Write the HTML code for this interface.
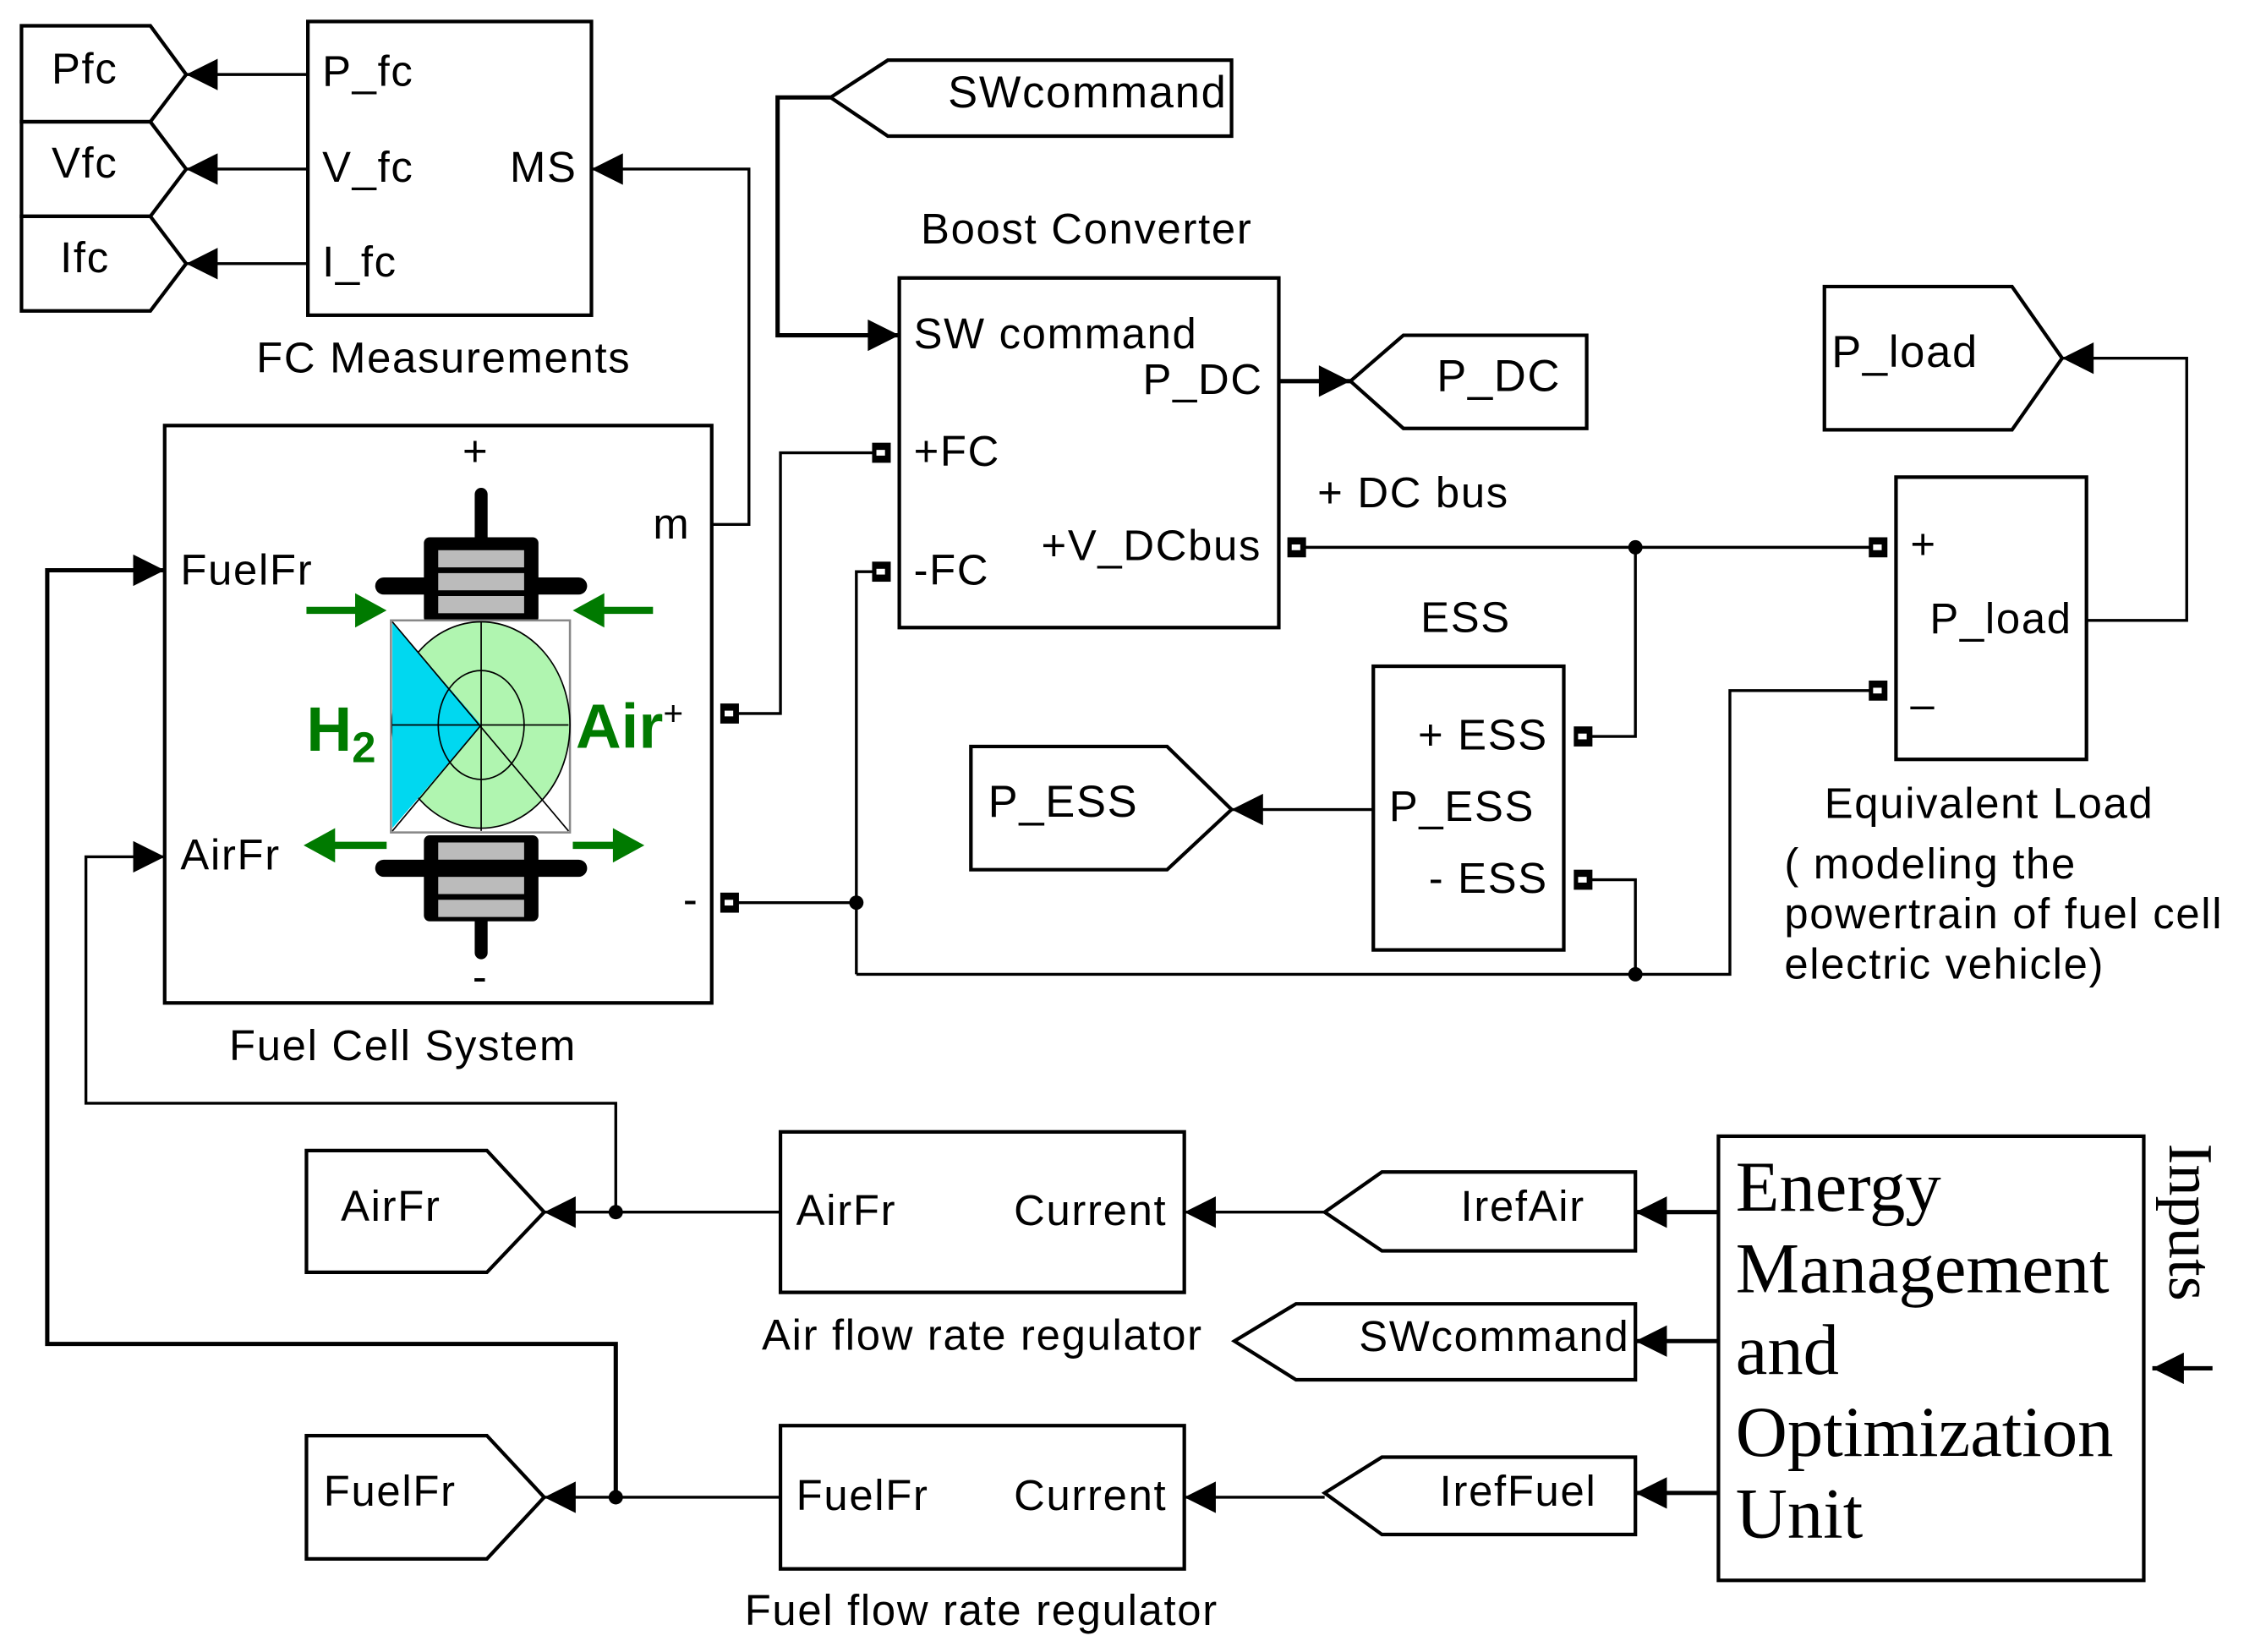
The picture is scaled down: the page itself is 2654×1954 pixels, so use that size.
<!DOCTYPE html>
<html><head><meta charset="utf-8"><style>
html,body{margin:0;padding:0;background:#fff;}
svg{display:block;}
text{font-family:"Liberation Sans",Arial,sans-serif;fill:#000;}
.s{font-family:"Liberation Serif",serif;}
</style></head><body>
<svg width="2654" height="1954" viewBox="0 0 1567 1153" preserveAspectRatio="none" xmlns="http://www.w3.org/2000/svg">
<defs>
<marker id="b" viewBox="0 0 10 10" refX="10" refY="5" markerWidth="24" markerHeight="22" markerUnits="userSpaceOnUse" orient="auto"><path d="M0,0 L10,5 L0,10 z"/></marker>
</defs>
<g fill="none" stroke="#000" stroke-width="2.5">
<polygon points="15,18 105,18 130,52 105,85 15,85"/>
<polygon points="15,85 105,85 130,118 105,151 15,151"/>
<polygon points="15,151 105,151 130,184 105,217 15,217"/>
<rect x="215" y="15" width="198" height="205"/>
<rect x="115" y="297" width="382" height="403"/>
<polygon points="580,68 620,42 860,42 860,95 620,95"/>
<rect x="628" y="194" width="265" height="244"/>
<polygon points="943,266 980,234 1108,234 1108,299 980,299"/>
<polygon points="1274,200 1405,200 1440,250 1405,300 1274,300"/>
<rect x="1324" y="333" width="133" height="197"/>
<rect x="959" y="465" width="133" height="198"/>
<polygon points="678,521 815,521 860,565 815,607 678,607"/>
<polygon points="214,803 340,803 380,846 340,888 214,888"/>
<rect x="545" y="790" width="282" height="112"/>
<polygon points="925,846 965,818 1142,818 1142,873 965,873"/>
<polygon points="862,936 905,910 1142,910 1142,963 905,963"/>
<polygon points="925,1042 965,1017 1142,1017 1142,1071 965,1071"/>
<rect x="545" y="995" width="282" height="100"/>
<polygon points="214,1002 340,1002 380,1045 340,1088 214,1088"/>
<rect x="1200" y="793" width="297" height="310"/>
</g>
<g fill="none" stroke="#000" stroke-width="2">
<line x1="215" y1="52" x2="130" y2="52" marker-end="url(#b)"/>
<line x1="215" y1="118" x2="130" y2="118" marker-end="url(#b)"/>
<line x1="215" y1="184" x2="130" y2="184" marker-end="url(#b)"/>
<polyline points="497,366 523,366 523,118 413,118" marker-end="url(#b)"/>
<polyline points="580,68 543,68 543,234 628,234" stroke-width="3" marker-end="url(#b)"/>
<line x1="893" y1="266" x2="943" y2="266" stroke-width="3" marker-end="url(#b)"/>
<polyline points="1457,433 1527,433 1527,250 1440,250" marker-end="url(#b)"/>
<line x1="959" y1="565" x2="860" y2="565" marker-end="url(#b)"/>
<polyline points="510,498 545,498 545,316 615,316"/>
<polyline points="510,630 598,630"/>
<polyline points="598,680 598,399 615,399"/>
<polyline points="598,680 1208,680 1208,482 1311,482"/>
<polyline points="1105,614 1142,614 1142,680"/>
<line x1="906" y1="382" x2="1311" y2="382"/>
<polyline points="1142,382 1142,514 1105,514"/>
<polyline points="430,1045 430,938 33,938 33,398 115,398" stroke-width="3" marker-end="url(#b)"/>
<polyline points="430,846 430,770 60,770 60,598 115,598" marker-end="url(#b)"/>
<line x1="545" y1="846" x2="380" y2="846" marker-end="url(#b)"/>
<line x1="545" y1="1045" x2="380" y2="1045" marker-end="url(#b)"/>
<line x1="925" y1="846" x2="827" y2="846" marker-end="url(#b)"/>
<line x1="925" y1="1045" x2="827" y2="1045" marker-end="url(#b)"/>
<line x1="1200" y1="846" x2="1142" y2="846" stroke-width="3" marker-end="url(#b)"/>
<line x1="1200" y1="936" x2="1142" y2="936" stroke-width="3" marker-end="url(#b)"/>
<line x1="1200" y1="1042" x2="1142" y2="1042" stroke-width="3" marker-end="url(#b)"/>
<line x1="1545" y1="955" x2="1503" y2="955" stroke-width="3" marker-end="url(#b)"/>
</g>
<g fill="#000">
<circle cx="598" cy="630" r="5"/><circle cx="1142" cy="680" r="5"/><circle cx="1142" cy="382" r="5"/>
<circle cx="430" cy="846" r="5"/><circle cx="430" cy="1045" r="5"/>
</g>
<g fill="#000" stroke="none">
<rect x="503" y="491" width="13" height="14"/><rect x="503" y="623" width="13" height="14"/>
<rect x="609" y="309" width="13" height="14"/><rect x="609" y="392" width="13" height="14"/>
<rect x="899" y="375" width="13" height="14"/>
<rect x="1099" y="507" width="13" height="14"/><rect x="1099" y="607" width="13" height="14"/>
<rect x="1305" y="375" width="13" height="14"/><rect x="1305" y="475" width="13" height="14"/>
</g>
<g fill="#fff"><rect x="506" y="496" width="6" height="4"/><rect x="506" y="628" width="6" height="4"/><rect x="612" y="314" width="6" height="4"/><rect x="612" y="397" width="6" height="4"/><rect x="902" y="380" width="6" height="4"/><rect x="1102" y="512" width="6" height="4"/><rect x="1102" y="612" width="6" height="4"/><rect x="1308" y="380" width="6" height="4"/><rect x="1308" y="480" width="6" height="4"/></g>
<g>
<line x1="336" y1="345" x2="336" y2="385" stroke="#000" stroke-width="9" stroke-linecap="round"/>
<line x1="336" y1="625" x2="336" y2="665" stroke="#000" stroke-width="9" stroke-linecap="round"/>
<rect x="296" y="375" width="80" height="60" rx="4" fill="#000"/>
<line x1="268" y1="409" x2="404" y2="409" stroke="#000" stroke-width="12" stroke-linecap="round"/>
<rect x="306" y="384" width="60" height="12" fill="#bbb"/><rect x="306" y="400" width="60" height="12" fill="#bbb"/><rect x="306" y="416" width="60" height="12" fill="#bbb"/>
<rect x="296" y="583" width="80" height="60" rx="4" fill="#000"/>
<line x1="268" y1="606" x2="404" y2="606" stroke="#000" stroke-width="12" stroke-linecap="round"/>
<rect x="306" y="588" width="60" height="12" fill="#bbb"/><rect x="306" y="612" width="60" height="12" fill="#bbb"/><rect x="306" y="628" width="60" height="12" fill="#bbb"/>
<rect x="273" y="433" width="125" height="148" fill="#fff" stroke="#888" stroke-width="1.5"/>
<ellipse cx="336" cy="506" rx="62" ry="72" fill="#b0f5b0" stroke="#000" stroke-width="1"/>
<path d="M274,434 L336,506 L274,578 z" fill="#00d8f0"/>
<ellipse cx="336" cy="506" rx="30" ry="38" fill="none" stroke="#000" stroke-width="1"/>
<g stroke="#000" stroke-width="1"><line x1="274" y1="434" x2="397" y2="580"/><line x1="274" y1="580" x2="336" y2="506"/><line x1="336" y1="434" x2="336" y2="580"/><line x1="274" y1="506" x2="397" y2="506"/></g>
<g fill="#007a00" stroke="#007a00" stroke-width="5">
<line x1="214" y1="426" x2="250" y2="426"/><polygon points="248,414 270,426 248,438" stroke="none"/>
<line x1="420" y1="426" x2="456" y2="426"/><polygon points="422,414 400,426 422,438" stroke="none"/>
<line x1="232" y1="590" x2="270" y2="590"/><polygon points="234,578 212,590 234,602" stroke="none"/>
<line x1="400" y1="590" x2="430" y2="590"/><polygon points="428,578 450,590 428,602" stroke="none"/>
</g>
<text x="214" y="524" font-size="44" font-weight="bold" style="fill:#007a00">H<tspan font-size="30" dy="8">2</tspan></text>
<text x="402" y="522" font-size="44" font-weight="bold" style="fill:#007a00">Air<tspan font-size="24" dy="-16" style="fill:#000" font-weight="normal">+</tspan></text>
</g>
<g font-size="30" letter-spacing="1">
<text x="36" y="58">Pfc</text><text x="36" y="124">Vfc</text><text x="42" y="190">Ifc</text>
<text x="225" y="60">P_fc</text><text x="225" y="127">V_fc</text><text x="225" y="193">I_fc</text>
<text x="403" y="127" text-anchor="end">MS</text>
<text x="179" y="260">FC Measurements</text>
<text x="323" y="325">+</text>
<text x="456" y="376">m</text>
<text x="126" y="408">FuelFr</text>
<text x="126" y="607">AirFr</text>
<text x="477" y="638">-</text>
<text x="330" y="692">-</text>
<text x="160" y="740">Fuel Cell System</text>
<text x="857" y="75" font-size="31" text-anchor="end">SWcommand</text>
<text x="643" y="170">Boost Converter</text>
<text x="638" y="243">SW command</text>
<text x="882" y="275" text-anchor="end">P_DC</text>
<text x="638" y="325">+FC</text>
<text x="881" y="391" text-anchor="end">+V_DCbus</text>
<text x="638" y="408">-FC</text>
<text x="1090" y="273" font-size="31" text-anchor="end">P_DC</text>
<text x="920" y="354">+ DC bus</text>
<text x="1279" y="256" font-size="31">P_load</text>
<text x="1334" y="390">+</text>
<text x="1447" y="442" text-anchor="end">P_load</text>
<text x="1334" y="502">–</text>
<text x="992" y="441">ESS</text>
<text x="1081" y="523" text-anchor="end">+ ESS</text>
<text x="970" y="573">P_ESS</text>
<text x="1081" y="623" text-anchor="end">- ESS</text>
<text x="690" y="570" font-size="31">P_ESS</text>
<text x="1274" y="571">Equivalent Load</text>
<text x="1246" y="613">( modeling the</text>
<text x="1246" y="648">powertrain of fuel cell</text>
<text x="1246" y="683">electric vehicle)</text>
<text x="238" y="852">AirFr</text>
<text x="556" y="855">AirFr</text><text x="815" y="855" text-anchor="end">Current</text>
<text x="532" y="942">Air flow rate regulator</text>
<text x="1107" y="852" text-anchor="end">IrefAir</text>
<text x="1138" y="943" text-anchor="end">SWcommand</text>
<text x="1115" y="1051" text-anchor="end">IrefFuel</text>
<text x="556" y="1054">FuelFr</text><text x="815" y="1054" text-anchor="end">Current</text>
<text x="226" y="1051">FuelFr</text>
<text x="520" y="1134">Fuel flow rate regulator</text>
</g>
<g font-size="50">
<text class="s" x="1212" y="845">Energy</text>
<text class="s" x="1212" y="902">Management</text>
<text class="s" x="1212" y="959">and</text>
<text class="s" x="1212" y="1016">Optimization</text>
<text class="s" x="1212" y="1073">Unit</text>
<text class="s" transform="translate(1515,798) rotate(90)" font-size="44">Inputs</text>
</g>
</svg>
</body></html>
